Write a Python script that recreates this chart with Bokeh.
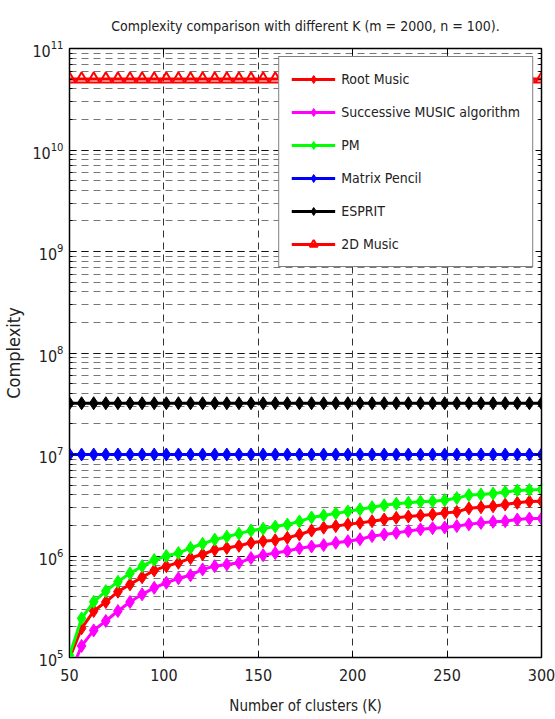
from bokeh.plotting import figure
from bokeh.models import (FixedTicker, LogAxis, LinearAxis, Legend, LegendItem,
                          ColumnDataSource, Range1d)
from bokeh.embed import file_html
from bokeh.resources import INLINE

# ---------------- data ----------------
K = [50.0, 56.41, 62.82, 69.23, 75.64, 82.05, 88.46, 94.87, 101.28, 107.69,
     114.10, 120.51, 126.92, 133.33, 139.74, 146.15, 152.56, 158.97, 165.38, 171.79,
     178.21, 184.62, 191.03, 197.44, 203.85, 210.26, 216.67, 223.08, 229.49, 235.90,
     242.31, 248.72, 255.13, 261.54, 267.95, 274.36, 280.77, 287.18, 293.59, 300.0]

root_music = [9.8e4, 1.94e5, 2.87e5, 3.52e5, 4.45e5, 5.25e5, 6.17e5, 7.21e5, 7.94e5, 8.57e5,
              9.55e5, 1.04e6, 1.15e6, 1.20e6, 1.26e6, 1.35e6, 1.40e6, 1.43e6, 1.51e6, 1.63e6,
              1.78e6, 1.90e6, 1.97e6, 2.05e6, 2.12e6, 2.20e6, 2.29e6, 2.38e6, 2.45e6, 2.51e6,
              2.57e6, 2.66e6, 2.72e6, 2.95e6, 3.02e6, 3.09e6, 3.22e6, 3.34e6, 3.44e6, 3.47e6]

successive_music = [6.7e4, 1.30e5, 1.85e5, 2.29e5, 2.87e5, 3.52e5, 4.19e5, 4.86e5, 5.45e5, 6.03e5,
                    6.46e5, 7.38e5, 7.94e5, 8.26e5, 8.57e5, 9.55e5, 1.02e6, 1.07e6, 1.12e6, 1.19e6,
                    1.24e6, 1.28e6, 1.35e6, 1.40e6, 1.46e6, 1.57e6, 1.63e6, 1.69e6, 1.76e6, 1.83e6,
                    1.88e6, 1.91e6, 1.97e6, 2.05e6, 2.12e6, 2.17e6, 2.20e6, 2.29e6, 2.34e6, 2.34e6]

pm = [1.05e5, 2.43e5, 3.54e5, 4.51e5, 5.57e5, 6.75e5, 7.94e5, 9.12e5, 1.00e6, 1.07e6,
      1.20e6, 1.32e6, 1.45e6, 1.55e6, 1.66e6, 1.78e6, 1.86e6, 1.95e6, 2.04e6, 2.19e6,
      2.40e6, 2.51e6, 2.63e6, 2.75e6, 2.88e6, 3.02e6, 3.16e6, 3.27e6, 3.35e6, 3.43e6,
      3.47e6, 3.55e6, 3.72e6, 3.98e6, 4.03e6, 4.12e6, 4.27e6, 4.42e6, 4.47e6, 4.52e6]

matrix_pencil = [1.0e7] * 40
esprit = [3.2e7] * 40
music_2d = [5.0e10] * 40

labels = ["Root Music", "Successive MUSIC algorithm", "PM", "Matrix Pencil", "ESPRIT", "2D Music"]
colors = ["#ff0000", "#ff00ff", "#00ff00", "#0000ff", "#000000", "#ff0000"]
series = [root_music, successive_music, pm, matrix_pencil, esprit, music_2d]

x_ticks = [50, 100, 150, 200, 250, 300]

FONT = "DejaVu Sans Condensed, Liberation Sans, sans-serif"

# ---------------- figure ----------------
p = figure(width=555, height=719, y_axis_type="log", output_backend="svg",
           toolbar_location=None, x_range=Range1d(50, 300), y_range=Range1d(1e5, 1e11),
           min_border_left=64, min_border_right=14, min_border_top=48, min_border_bottom=62)
p.background_fill_color = "white"
p.border_fill_color = "white"
p.outline_line_color = "black"
p.outline_line_width = 1.5

p.title.text = "Complexity comparison with different K (m = 2000, n = 100)."
p.title.align = "center"
p.title.text_font = FONT
p.title.text_font_style = "normal"
p.title.text_font_size = "14px"
p.title.text_color = "#222222"
p.title.offset = 0
p.title.standoff = 30

# axes
xa = p.xaxis[0]
xa.ticker = FixedTicker(ticks=x_ticks)
xa.axis_label = "Number of clusters (K)"
ya = p.yaxis[0]
ya.axis_label = "Complexity"
for ax in (xa, ya):
    ax.major_tick_in = 6
    ax.major_tick_out = 0
    ax.minor_tick_in = 3
    ax.minor_tick_out = 0
    ax.axis_line_color = "black"
    ax.major_label_text_font = FONT
    ax.major_label_text_font_size = "16px"
    ax.major_label_text_color = "#222222"
    ax.axis_label_text_font = FONT
    ax.axis_label_text_font_style = "normal"
    ax.axis_label_text_font_size = "15px"
    ax.axis_label_text_color = "#222222"
xa.major_label_standoff = 11
xa.axis_label_standoff = 13
ya.major_label_standoff = 6
ya.axis_label_standoff = 5
ya.axis_label_text_font_size = "18px"

# mirror axes (ticks only)
ra = LogAxis(ticker=ya.ticker)
ta = LinearAxis(ticker=FixedTicker(ticks=x_ticks))
for ax in (ra, ta):
    ax.major_tick_in = 6
    ax.major_tick_out = 0
    ax.minor_tick_in = 3
    ax.minor_tick_out = 0
    ax.major_label_text_font_size = "0px"
    ax.major_label_text_color = None
    ax.axis_line_color = "black"
ta.minor_tick_line_color = None
p.add_layout(ra, "right")
p.add_layout(ta, "above")

# grids
p.xgrid.ticker = FixedTicker(ticks=x_ticks)
p.xgrid.grid_line_color = "black"
p.xgrid.grid_line_dash = "7 5"
p.xgrid.grid_line_alpha = 0.8
p.ygrid.grid_line_color = "black"
p.ygrid.grid_line_dash = "7 5"
p.ygrid.grid_line_alpha = 0.8
p.ygrid.minor_grid_line_color = "#555555"
p.ygrid.minor_grid_line_dash = "7 5"
p.ygrid.minor_grid_line_alpha = 0.8

# series
items = []
for lab, col, vals in zip(labels, colors, series):
    src = ColumnDataSource(dict(x=K, y=vals))
    ln = p.line("x", "y", source=src, line_color=col, line_width=3)
    if lab == "2D Music":
        sc = p.scatter("x", "y", source=src, marker="triangle", size=12,
                       fill_color="white", fill_alpha=0.0, line_color=col, line_width=2)
    else:
        sc = p.scatter("x", "y", source=src, marker="diamond", size=13,
                       fill_color=col, line_color=col, line_width=1)
    items.append(LegendItem(label=lab, renderers=[ln, sc]))

legend = Legend(items=items, location="top_right")
legend.label_text_font = FONT
legend.label_text_font_size = "14px"
legend.label_text_color = "#222222"
legend.glyph_width = 44
legend.glyph_height = 20
legend.label_height = 20
legend.spacing = 13
legend.padding = 12
legend.margin = 8
legend.label_standoff = 6
legend.border_line_color = "black"
legend.border_line_width = 1.2
legend.background_fill_color = "white"
legend.background_fill_alpha = 1.0
p.add_layout(legend, "center")

open("out.html", "w").write(file_html(p, INLINE))
